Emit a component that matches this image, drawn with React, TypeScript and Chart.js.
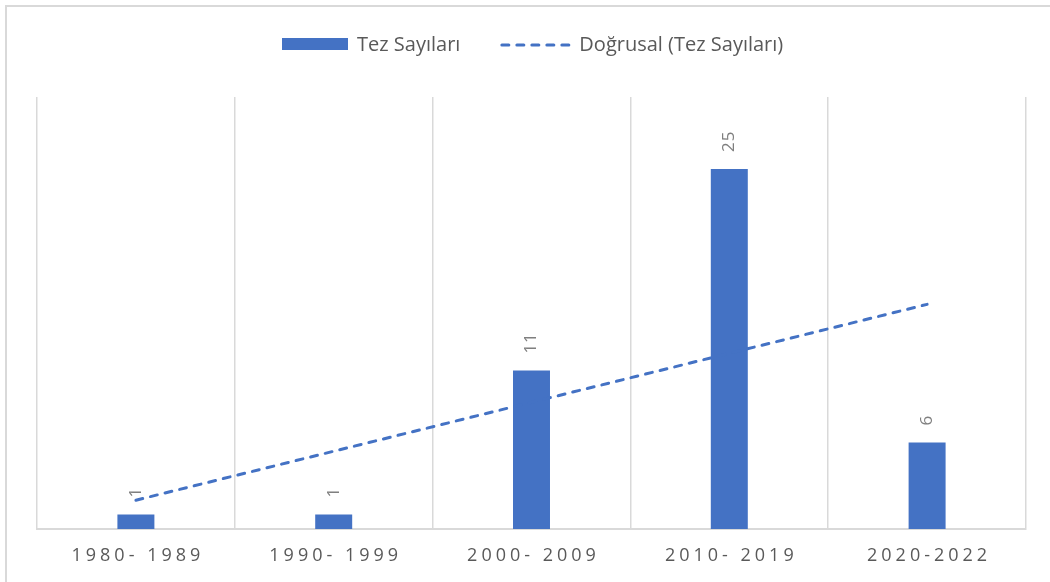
import React, { useEffect, useRef } from "react";
import { Chart, registerables } from "chart.js";

Chart.register(...registerables);

const categories = ["1980- 1989", "1990- 1999", "2000- 2009", "2010- 2019", "2020-2022"];
const thesisCounts = [1, 1, 11, 25, 6];
const trendValues = [2.0, 5.4, 8.8, 12.2, 15.6];
const yMax = 30;
const barLabel = "Tez Sayıları";
const trendLabel = "Doğrusal (Tez Sayıları)";

const BLUE = "#4472C4";
const GRID = "#d9d9d9";
const TEXT = "#595959";
const LABEL = "#7f7f7f";
const FONT = "'Open Sans', sans-serif";

const decorPlugin = {
  id: "decor",
  afterDatasetsDraw(chart: any) {
    const ctx = chart.ctx;
    const meta = chart.getDatasetMeta(0);
    ctx.save();
    ctx.fillStyle = LABEL;
    ctx.font = `17px ${FONT}`;
    (ctx as any).letterSpacing = "1px";
    ctx.textAlign = "left";
    ctx.textBaseline = "middle";
    meta.data.forEach((el: any, i: number) => {
      ctx.save();
      ctx.translate(el.x, el.y - 17);
      ctx.rotate(-Math.PI / 2);
      ctx.fillText(String(thesisCounts[i]), 0, 0);
      ctx.restore();
    });
    ctx.restore();
  },
  afterDraw(chart: any) {
    const ctx = chart.ctx;
    const w = chart.width;
    const h = chart.height;
    ctx.save();
    // frame
    ctx.strokeStyle = GRID;
    ctx.lineWidth = 2;
    ctx.beginPath();
    ctx.moveTo(6, h);
    ctx.lineTo(6, 6);
    ctx.lineTo(w, 6);
    ctx.stroke();

    // legend
    let x = 282;
    const cy = 45;
    ctx.fillStyle = BLUE;
    ctx.fillRect(x, 38, 66, 12);
    x += 66 + 9;
    ctx.font = `20px ${FONT}`;
    ctx.fillStyle = TEXT;
    ctx.textAlign = "left";
    ctx.textBaseline = "middle";
    ctx.fillText(barLabel, x, cy);
    x += ctx.measureText(barLabel).width + 40;
    ctx.strokeStyle = BLUE;
    ctx.lineWidth = 3;
    ctx.lineCap = "round";
    ctx.setLineDash([7, 8]);
    ctx.beginPath();
    ctx.moveTo(x + 1.5, cy);
    ctx.lineTo(x + 71, cy);
    ctx.stroke();
    ctx.setLineDash([]);
    x += 71 + 8;
    ctx.fillText(trendLabel, x, cy);

    // x tick labels
    const xs = chart.scales.x;
    ctx.font = `18px ${FONT}`;
    (ctx as any).letterSpacing = "4px";
    ctx.textAlign = "center";
    categories.forEach((c, i) => {
      ctx.fillText(c, xs.getPixelForValue(i) + 2, 556);
    });
    ctx.restore();
  },
};

export default function App() {
  const ref = useRef<HTMLCanvasElement | null>(null);
  useEffect(() => {
    document.body.style.margin = "0";
    const chart = new Chart(ref.current as HTMLCanvasElement, {
      type: "bar",
      data: {
        labels: categories,
        datasets: [
          {
            type: "bar",
            label: barLabel,
            data: thesisCounts,
            backgroundColor: BLUE,
            barPercentage: 0.187,
            categoryPercentage: 1,
            order: 2,
          } as any,
          {
            type: "line",
            label: trendLabel,
            data: trendValues,
            borderColor: BLUE,
            borderWidth: 3,
            borderDash: [7, 8],
            borderCapStyle: "round",
            pointRadius: 0,
            fill: false,
            order: 1,
          } as any,
        ],
      },
      options: {
        animation: false,
        responsive: false,
        layout: { padding: { top: 97, left: 37, right: 24, bottom: 53 } },
        plugins: { legend: { display: false }, tooltip: { enabled: false } },
        scales: {
          x: {
            display: true,
            offset: true,
            ticks: { display: false },
            grid: { color: GRID, lineWidth: 1.5, drawTicks: false, offset: true },
            border: { color: GRID, width: 2 },
          },
          y: { display: false, min: 0, max: yMax },
        },
      },
      plugins: [decorPlugin],
    });
    return () => chart.destroy();
  }, []);
  return (
    <div style={{ width: 1050, height: 582 }}>
      <canvas ref={ref} width={1050} height={582} />
    </div>
  );
}
